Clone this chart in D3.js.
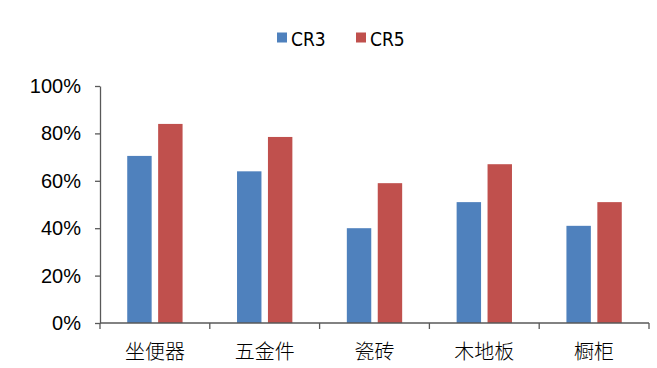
<!DOCTYPE html>
<html>
<head>
<meta charset="utf-8">
<script src="https://cdn.jsdelivr.net/npm/d3@7"></script>
<style>
  html, body { margin: 0; padding: 0; background: #fff; }
  svg { display: block; }
</style>
</head>
<body>
<svg id="chart" width="657" height="368"></svg>
<script>
// Market concentration by category (share, fraction of 1)
const categories = ["坐便器", "五金件", "瓷砖", "木地板", "橱柜"];
const seriesNames = ["CR3", "CR5"];
const cr3 = [0.705, 0.64, 0.40, 0.51, 0.41];
const cr5 = [0.84, 0.785, 0.59, 0.67, 0.51];
const yTicks = [0, 0.2, 0.4, 0.6, 0.8, 1.0];
const colors = { CR3: "#4F81BD", CR5: "#C0504D" };

const svg = d3.select("#chart");
const plot = { left: 100, right: 649, top: 86, bottom: 323 };

const x = d3.scaleBand().domain(categories).range([plot.left, plot.right]).padding(0);
const xs = d3.scaleBand().domain(seriesNames)
  .range([x.bandwidth() * 0.248, x.bandwidth() * 0.752]).paddingInner(0.21);
const y = d3.scaleLinear().domain([0, 1]).range([plot.bottom, plot.top]);

const rows = categories.map((c, i) => ({ cat: c, CR3: cr3[i], CR5: cr5[i] }));

// Bars
const groups = svg.append("g").selectAll("g").data(rows).join("g")
  .attr("transform", d => `translate(${x(d.cat)},0)`);
groups.selectAll("rect")
  .data(d => seriesNames.map(s => ({ s, v: d[s] })))
  .join("rect")
  .attr("x", d => xs(d.s))
  .attr("width", xs.bandwidth())
  .attr("y", d => y(d.v))
  .attr("height", d => y(0) - y(d.v))
  .attr("fill", d => colors[d.s]);

const axisColor = "#595959";

// Y axis
const yAxis = svg.append("g").attr("transform", `translate(${plot.left},0)`)
  .call(d3.axisLeft(y).tickValues(yTicks).tickFormat(d3.format(".0%")).tickSize(5).tickPadding(14).tickSizeOuter(0));
yAxis.select(".domain").attr("stroke", axisColor).attr("stroke-width", 1.3);
yAxis.selectAll(".tick line").attr("stroke", axisColor).attr("stroke-width", 1.3);
yAxis.selectAll(".tick text")
  .attr("fill", "#000")
  .style("font-family", "'Liberation Sans', Arial, sans-serif")
  .style("font-size", "20px");

// X axis with ticks at category boundaries
const xAxisG = svg.append("g").attr("transform", `translate(0,${plot.bottom})`);
xAxisG.append("line")
  .attr("x1", plot.left).attr("x2", plot.right)
  .attr("stroke", axisColor).attr("stroke-width", 1.3);
const boundaries = categories.map(c => x(c)).concat([x(categories[categories.length - 1]) + x.bandwidth()]);
xAxisG.selectAll("line.tick").data(boundaries).join("line")
  .attr("class", "tick")
  .attr("x1", d => d).attr("x2", d => d)
  .attr("y1", 0).attr("y2", 6)
  .attr("stroke", axisColor).attr("stroke-width", 1.3);
xAxisG.selectAll("text").data(categories).join("text")
  .attr("x", d => x(d) + x.bandwidth() / 2)
  .attr("y", 36)
  .attr("text-anchor", "middle")
  .attr("fill", "#000")
  .style("font-family", "'Noto Sans CJK SC', sans-serif")
  .style("font-weight", "300")
  .style("font-size", "20px")
  .text(d => d);

// Legend
const legendItems = [
  { s: "CR3", x: 277 },
  { s: "CR5", x: 356 }
];
const legend = svg.append("g").selectAll("g").data(legendItems).join("g")
  .attr("transform", d => `translate(${d.x},32.5)`);
legend.append("rect").attr("width", 10).attr("height", 10).attr("fill", d => colors[d.s]);
legend.append("text")
  .attr("x", 14).attr("y", 13.5)
  .attr("fill", "#000")
  .style("font-family", "'Liberation Sans Narrow', 'DejaVu Sans Condensed', sans-serif")
  .style("font-size", "19px")
  .text(d => d.s);
</script>
</body>
</html>
